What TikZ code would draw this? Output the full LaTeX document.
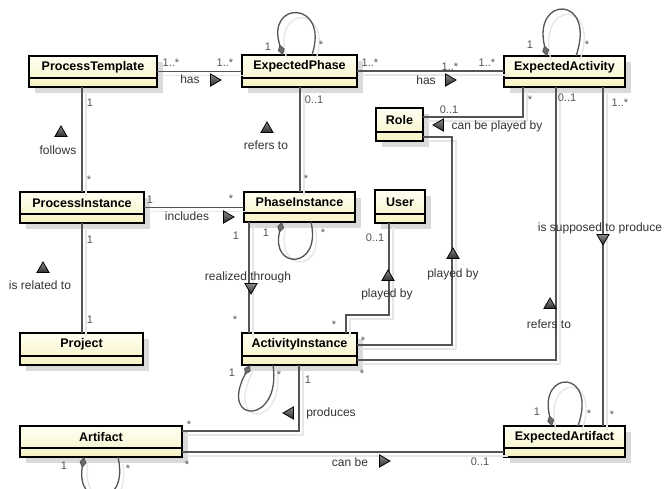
\documentclass[tikz,border=0pt]{standalone}
\usepackage{fontspec}
\setmainfont{Liberation Sans}
\usetikzlibrary{arrows.meta,shapes.geometric,calc}

\definecolor{boxtop}{HTML}{FFFFF2}
\definecolor{boxbot}{HTML}{F7F2C4}
\definecolor{boxshadow}{HTML}{DADADA}
\definecolor{wire}{HTML}{545454}
\definecolor{wireshadow}{HTML}{E6E6E6}
\definecolor{labeltext}{HTML}{333333}
\definecolor{multtext}{HTML}{555555}
\definecolor{triA}{HTML}{8A8A8A}
\definecolor{triB}{HTML}{2E2E2E}
\definecolor{diamondgray}{HTML}{6A6A6A}

\tikzset{
  classbox/.style={draw=black, line width=2.4pt, top color=boxtop, bottom color=boxbot,
    inner sep=0pt, outer sep=0pt},
  classname/.style={font=\fontsize{12.5}{14}\selectfont\bfseries, text=black, inner sep=0pt},
  conn/.style={draw=wire, line width=1.3pt,
    preaction={draw=wireshadow, line width=1.3pt, arrows=-, transform canvas={shift={(4pt,-4pt)}}}},
  loopconn/.style={conn, {Diamond[length=11pt,width=7pt,line width=0.8pt,fill=diamondgray]}-},
  mult/.style={font=\fontsize{11}{12}\selectfont, text=multtext, inner sep=0pt,
    text height=8pt, text depth=0pt},
  rolelabel/.style={font=\fontsize{12}{14}\selectfont, text=labeltext, inner sep=0pt,
    text height=9pt, text depth=2.5pt},
  navtri/.style={regular polygon, regular polygon sides=3, minimum size=14pt, inner sep=0pt,
    draw=black, line width=0.8pt, top color=triA, bottom color=triB},
  triup/.style={navtri},
  tridown/.style={navtri, shape border rotate=180},
  triright/.style={navtri, shape border rotate=-90},
  trileft/.style={navtri, shape border rotate=90},
}

% class box: node name, corners (x1,y1) (x2,y2), class name
\newcommand\umlclass[6]{%
  \fill[boxshadow] (#2+6,#3+6) rectangle (#4+6,#5+6);
  \node[classbox, minimum width={#4-#2}, minimum height={#5-#3}] (#1)
    at ({(#2+#4)/2},{(#3+#5)/2}) {};
  \draw[line width=1.3pt] ($(#1.south west)+(0,-9)$) -- ($(#1.south east)+(0,-9)$);
  \node[classname] at ($(#1.north)!0.5!($(#1.south)+(0,-9)$)$) {#6};
}

\begin{document}
\begin{tikzpicture}[x=1pt, y=-1pt]
\useasboundingbox[fill=white] (0,0) rectangle (665,489);

% ---- classes ----
\umlclass{ptemp}{29}{56}{157}{87}{ProcessTemplate}
\umlclass{ephase}{242}{55}{357}{87}{ExpectedPhase}
\umlclass{eact}{504}{56}{625}{87}{ExpectedActivity}
\umlclass{role}{376}{108}{423}{141}{Role}
\umlclass{pinst}{20}{192}{144}{223}{ProcessInstance}
\umlclass{phinst}{244}{192}{355}{222}{PhaseInstance}
\umlclass{user}{375}{190}{425}{223}{User}
\umlclass{proj}{20}{333}{143}{365}{Project}
\umlclass{ainst}{242}{333}{357}{365}{ActivityInstance}
\umlclass{artf}{20}{426}{182}{457}{Artifact}
\umlclass{eartf}{504}{426}{625}{457}{ExpectedArtifact}

% ---- associations ----
\draw[conn] (ptemp.east) -- (ptemp.east -| ephase.west);
\draw[conn] (ephase.east) -- (ephase.east -| eact.west);
\draw[conn] ($(ptemp.south west)+(53,0)$) coordinate (c1) -- (c1 |- pinst.north);
\draw[conn] ($(ephase.south west)+(58,0)$) coordinate (c2) -- (c2 |- phinst.north);
\draw[conn] ($(eact.south west)+(19,0)$) |- ($(role.east)+(0,-7.5)$);
\draw[conn] ($(eact.south west)+(52,0)$) |- ($(ainst.east)+(0,11)$);
\draw[conn] ($(eact.south west)+(99,0)$) coordinate (c3) -- (c3 |- eartf.north);
\draw[conn] ($(role.east)+(0,12.5)$) -- ++(29,0) |- ($(ainst.east)+(0,-4)$);
\draw[conn] ($(user.south west)+(14,0)$) -- ++(0,92) -| ($(ainst.north west)+(104,0)$);
\draw[conn] (pinst.east) -- (pinst.east -| phinst.west);
\draw[conn] ($(pinst.south west)+(62,0)$) coordinate (c4) -- (c4 |- proj.north);
\draw[conn] ($(phinst.south west)+(5,0)$) coordinate (c5) -- (c5 |- ainst.north);
\draw[conn] ($(ainst.south west)+(57,0)$) |- ($(artf.east)+(0,-10.5)$);
\draw[conn] ($(artf.east)+(0,10.5)$) coordinate (c6) -- (c6 -| eartf.west);

% ---- self associations ----
\draw[loopconn] ($(ephase.north west)+(41,0)$) .. controls +(-18,-55) and +(18,-55) .. ($(ephase.north west)+(70,0)$);
\draw[loopconn] ($(eact.north west)+(43,0)$) .. controls +(-15,-61) and +(21,-61) .. ($(eact.north west)+(72,0)$);
\draw[loopconn] ($(eartf.north west)+(48,0)$) .. controls +(-14,-57) and +(20,-57) .. ($(eartf.north west)+(74,0)$);
\draw[loopconn] ($(phinst.south west)+(38,0)$) .. controls +(-12,48) and +(11,48) .. ($(phinst.south west)+(67,0)$);
\draw[loopconn] ($(ainst.south west)+(8,0)$) .. controls +(-32,60) and +(9,60) .. ($(ainst.south west)+(31,0)$);
\draw[loopconn] ($(artf.south west)+(64,0)$) .. controls +(-9,52) and +(12,52) .. ($(artf.south west)+(98,0)$);

% ---- multiplicities ----
\node[mult] (m1) at (171,63) {1..*};
\node[mult] (m2) at (225,63) {1..*};
\node[mult] (m3) at (370,63) {1..*};
\node[mult] (m4) at (450,67) {1..*};
\node[mult] (m5) at (487,63) {1..*};
\node[mult] (m6) at (90,103) {1};
\node[mult] (m7) at (89,180) {*};
\node[mult] (m8) at (314,100) {0..1};
\node[mult] (m9) at (306,179) {*};
\node[mult] (m10) at (530,100) {*};
\node[mult] (m11) at (449,110) {0..1};
\node[mult] (m12) at (567,98) {0..1};
\node[mult] (m13) at (620,103) {1..*};
\node[mult] (m14) at (150,200) {1};
\node[mult] (m15) at (231,199) {*};
\node[mult] (m16) at (90,240) {1};
\node[mult] (m17) at (90,320) {1};
\node[mult] (m18) at (236,236) {1};
\node[mult] (m19) at (235,320) {*};
\node[mult] (m20) at (266,233) {1};
\node[mult] (m21) at (323,233) {*};
\node[mult] (m22) at (375,238) {0..1};
\node[mult] (m23) at (334,325) {*};
\node[mult] (m24) at (363,341) {*};
\node[mult] (m25) at (362,374) {*};
\node[mult] (m26) at (232,373) {1};
\node[mult] (m27) at (279,375) {*};
\node[mult] (m28) at (308,380) {1};
\node[mult] (m29) at (189,425) {*};
\node[mult] (m30) at (187,464) {*};
\node[mult] (m31) at (480,462) {0..1};
\node[mult] (m32) at (64,466) {1};
\node[mult] (m33) at (128,468) {*};
\node[mult] (m34) at (537,412) {1};
\node[mult] (m35) at (589,414) {*};
\node[mult] (m36) at (612,415) {*};
\node[mult] (m37) at (268,47) {1};
\node[mult] (m38) at (321,45) {*};
\node[mult] (m39) at (530,45) {1};
\node[mult] (m40) at (587,45) {*};

% ---- association names with reading direction ----
\node[rolelabel] (l1) at (190,80) {has};
\node[triright] (t1) at (214,80) {};
\node[rolelabel] (l2) at (426,81) {has};
\node[triright] (t2) at (449,80) {};
\node[rolelabel] (l3) at (58,151) {follows};
\node[triup] (t3) at (61,133) {};
\node[rolelabel] (l4) at (266,146) {refers to};
\node[triup] (t4) at (267,129) {};
\node[rolelabel] (l5) at (497,126) {can be played by};
\node[trileft] (t5) at (440,125) {};
\node[rolelabel] (l6) at (549,325) {refers to};
\node[triup] (t6) at (550,305) {};
\node[rolelabel] (l7) at (600,228) {is supposed to produce};
\node[tridown] (t7) at (603,238) {};
\node[rolelabel] (l8) at (187,217) {includes};
\node[triright] (t8) at (227,217) {};
\node[rolelabel] (l9) at (40,286) {is related to};
\node[triup] (t9) at (43,269) {};
\node[rolelabel] (l10) at (248,277) {realized through};
\node[tridown] (t10) at (251,287) {};
\node[rolelabel] (l11) at (387,294) {played by};
\node[triup] (t11) at (388,277) {};
\node[rolelabel] (l12) at (453,274) {played by};
\node[triup] (t12) at (453,255) {};
\node[rolelabel] (l13) at (331,413) {produces};
\node[trileft] (t13) at (290,413) {};
\node[rolelabel] (l14) at (350,463) {can be};
\node[triright] (t14) at (383,461) {};
\end{tikzpicture}
\end{document}
